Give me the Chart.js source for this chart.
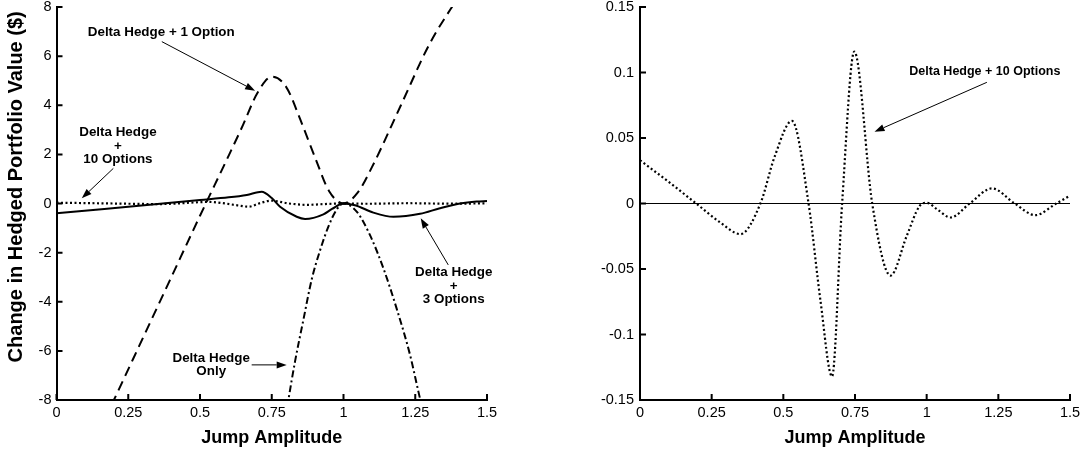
<!DOCTYPE html>
<html>
<head>
<meta charset="utf-8">
<script src="https://cdn.jsdelivr.net/npm/chart.js@4.4.1/dist/chart.umd.min.js"></script>
<style>
body { margin: 0; background: #fff; }
#left { position: absolute; left: 0; top: 0; width: 540px; height: 455px; }
#right { position: absolute; left: 540px; top: 0; width: 544px; height: 455px; }
</style>
</head>
<body>
<div id="left"><canvas id="c1"></canvas></div>
<div id="right"><canvas id="c2"></canvas></div>
<script>
// x ticks (jump amplitude) shared by both panels
const xTicks = [0, 0.25, 0.5, 0.75, 1, 1.25, 1.5];

// Delta Hedge + 1 Option (dashed)
const oneOptX = [0, 0.2, 0.3, 0.4, 0.5, 0.6, 0.65, 0.7, 0.75, 0.8, 0.85, 0.9, 0.95, 1.0, 1.05, 1.1, 1.2, 1.3, 1.4, 1.5];
const oneOptY = [-12.9, -8.0, -5.5, -3.0, -0.5, 1.95, 3.2, 4.5, 5.16, 4.75, 3.4, 1.9, 0.5, 0, 0.45, 1.5, 4.0, 6.5, 8.4, 10.2];

// Delta Hedge Only (dash-dot)
const onlyX = [0.78, 0.808, 0.831, 0.86, 0.889, 0.918, 0.947, 0.976, 1.0, 1.046, 1.092, 1.139, 1.185, 1.232, 1.261, 1.29];
const onlyY = [-10.1, -8, -6.44, -4.75, -3.1, -1.92, -0.95, -0.25, 0, -0.33, -1.28, -2.64, -4.27, -6.17, -7.66, -9.1];

// Delta Hedge + 3 Options (solid)
const threeX = [0, 0.5, 0.6, 0.663, 0.715, 0.75, 0.779, 0.837, 0.866, 0.93, 0.96, 1.0, 1.04, 1.104, 1.174, 1.267, 1.336, 1.406, 1.464, 1.5];
const threeY = [-0.4, 0.14, 0.25, 0.35, 0.48, 0.22, -0.13, -0.54, -0.63, -0.44, -0.22, 0, -0.07, -0.37, -0.54, -0.42, -0.19, 0, 0.08, 0.1];

// Delta Hedge + 10 Options (dotted), used in both panels
const tenX = [0, 0.1, 0.196, 0.28, 0.35, 0.42, 0.47, 0.53, 0.588, 0.63, 0.67, 0.705, 0.7476, 0.81, 0.874, 0.93, 0.975, 1.0, 1.04, 1.083, 1.15, 1.228, 1.307, 1.379, 1.452, 1.5];
const tenY = [0.033, 0.0165, 0, -0.0145, -0.0234, 0, 0.036, 0.063, 0, -0.075, -0.132, 0, 0.116, 0, -0.055, -0.025, -0.002, 0.0005, -0.005, -0.0107, 0, 0.0115, 0, -0.0089, 0, 0.006];

const leftYTicks = [-8, -6, -4, -2, 0, 2, 4, 6, 8];
const rightYTicks = [-0.15, -0.1, -0.05, 0, 0.05, 0.1, 0.15];

const FONT = '"Liberation Sans", Arial, Helvetica, sans-serif';
Chart.defaults.color = '#000';
Chart.defaults.font.family = FONT;

function pairs(xs, ys) {
    let out = [];
    for (let i = 0; i < xs.length; i++) {
        out.push({x: xs[i], y: ys[i]});
    }
    return out;
}

function fmt(v) {
    return parseFloat(v.toFixed(2)).toString();
}

function line(label, xs, ys, dash, width) {
    return {
        label: label,
        data: pairs(xs, ys),
        borderColor: '#000',
        borderWidth: width,
        borderDash: dash,
        borderCapStyle: 'butt',
        pointRadius: 0,
        fill: false,
        cubicInterpolationMode: 'monotone'
    };
}

// ticks pointing into the plot, like the original
const inwardTicks = {
    id: 'inwardTicks',
    afterDraw(chart) {
        const ctx = chart.ctx;
        const a = chart.chartArea;
        const sx = chart.scales.x, sy = chart.scales.y;
        ctx.save();
        ctx.strokeStyle = '#000';
        ctx.lineWidth = 2;
        ctx.beginPath();
        sx.ticks.forEach(t => {
            const p = sx.getPixelForValue(t.value);
            ctx.moveTo(p, a.bottom);
            ctx.lineTo(p, a.bottom - 6);
        });
        sy.ticks.forEach(t => {
            const p = sy.getPixelForValue(t.value);
            ctx.moveTo(a.left, p);
            ctx.lineTo(a.left + 6, p);
        });
        ctx.stroke();
        ctx.restore();
    }
};

// text labels with arrows
const notes = {
    id: 'notes',
    afterDatasetsDraw(chart, args, opts) {
        const ctx = chart.ctx;
        const sx = chart.scales.x, sy = chart.scales.y;
        ctx.save();
        ctx.fillStyle = '#000';
        ctx.strokeStyle = '#000';
        ctx.textAlign = 'center';
        ctx.textBaseline = 'middle';
        (opts.items || []).forEach(n => {
            ctx.font = 'bold ' + n.size + 'px ' + FONT;
            const tx = sx.getPixelForValue(n.at[0]);
            const ty = sy.getPixelForValue(n.at[1]);
            n.lines.forEach((t, i) => ctx.fillText(t, tx, ty + i * n.lead));

            const x0 = sx.getPixelForValue(n.from[0]), y0 = sy.getPixelForValue(n.from[1]);
            const x1 = sx.getPixelForValue(n.to[0]), y1 = sy.getPixelForValue(n.to[1]);
            const ang = Math.atan2(y1 - y0, x1 - x0);
            const len = 10, half = 3.5;
            ctx.lineWidth = 1;
            ctx.beginPath();
            ctx.moveTo(x0, y0);
            ctx.lineTo(x1 - Math.cos(ang) * len, y1 - Math.sin(ang) * len);
            ctx.stroke();
            ctx.beginPath();
            ctx.moveTo(x1, y1);
            ctx.lineTo(x1 - Math.cos(ang) * len - Math.sin(ang) * half, y1 - Math.sin(ang) * len + Math.cos(ang) * half);
            ctx.lineTo(x1 - Math.cos(ang) * len + Math.sin(ang) * half, y1 - Math.sin(ang) * len - Math.cos(ang) * half);
            ctx.closePath();
            ctx.fill();
        });
        ctx.restore();
    }
};

function xAxis() {
    return {
        type: 'linear',
        min: 0,
        max: 1.5,
        afterBuildTicks: s => { s.ticks = xTicks.map(v => ({value: v})); },
        ticks: { font: {size: 14.5}, padding: 4, maxRotation: 0, autoSkip: false, callback: fmt },
        grid: { display: false, drawTicks: false },
        border: { display: true, color: '#000', width: 2 },
        title: { display: true, text: 'Jump Amplitude', font: {size: 18, weight: 'bold'}, padding: {top: 0, bottom: 6} },
        afterFit: s => { s.height = 55; s.paddingLeft = 0; s.paddingRight = 0; }
    };
}

function yAxis(ticks, width, pad) {
    return {
        type: 'linear',
        min: ticks[0],
        max: ticks[ticks.length - 1],
        afterBuildTicks: s => { s.ticks = ticks.map(v => ({value: v})); },
        ticks: { font: {size: 14.5}, padding: pad, autoSkip: false, callback: fmt },
        border: { display: true, color: '#000', width: 2 },
        afterFit: s => { s.width = width; s.paddingTop = 0; s.paddingBottom = 0; }
    };
}

const leftY = yAxis(leftYTicks, 56.5, 5);
leftY.grid = { display: false, drawTicks: false };
// leading spaces nudge the title up a bit, as in the original
leftY.title = { display: true, text: '\u00a0\u00a0\u00a0\u00a0\u00a0\u00a0Change in Hedged Portfolio Value ($)', font: {size: 20, weight: 'bold'}, padding: {top: 4, bottom: 0} };

const leftChart = new Chart(document.getElementById('c1'), {
    type: 'line',
    data: {
        datasets: [
            line('Delta Hedge + 1 Option', oneOptX, oneOptY, [10, 6], 2),
            line('Delta Hedge Only', onlyX, onlyY, [7, 3, 2, 3], 2),
            line('Delta Hedge + 3 Options', threeX, threeY, [], 2),
            line('Delta Hedge + 10 Options', tenX, tenY, [2, 2.5], 2.2)
        ]
    },
    options: {
        responsive: true,
        maintainAspectRatio: false,
        animation: false,
        devicePixelRatio: 1,
        layout: { padding: {left: 0, top: 7, right: 53, bottom: 0} },
        scales: { x: xAxis(), y: leftY },
        plugins: {
            legend: { display: false },
            tooltip: { enabled: false },
            notes: {
                items: [
                    { lines: ['Delta Hedge + 1 Option'], at: [0.365, 6.97], lead: 0, size: 13.4, from: [0.367, 6.59], to: [0.692, 4.59] },
                    { lines: ['Delta Hedge', '+', '10 Options'], at: [0.214, 2.88], lead: 13.3, size: 13.4, from: [0.198, 1.43], to: [0.088, 0.21] },
                    { lines: ['Delta Hedge', '+', '3 Options'], at: [1.384, -2.82], lead: 13.2, size: 13.4, from: [1.365, -2.5], to: [1.269, -0.6] },
                    { lines: ['Delta Hedge', 'Only'], at: [0.539, -6.30], lead: 13.4, size: 13.4, from: [0.68, -6.57], to: [0.802, -6.57] }
                ]
            }
        }
    },
    plugins: [inwardTicks, notes]
});

const rightY = yAxis(rightYTicks, 100, 6);
rightY.grid = {
    display: true,
    drawTicks: false,
    lineWidth: 1,
    color: c => Math.abs(c.tick.value) < 1e-9 ? '#000' : 'rgba(0,0,0,0)'
};

const rightChart = new Chart(document.getElementById('c2'), {
    type: 'line',
    data: {
        datasets: [
            line('Delta Hedge + 10 Options', tenX, tenY, [2, 2.5], 2.2)
        ]
    },
    options: {
        responsive: true,
        maintainAspectRatio: false,
        animation: false,
        devicePixelRatio: 1,
        layout: { padding: {left: 0, top: 7, right: 14, bottom: 0} },
        scales: { x: xAxis(), y: rightY },
        plugins: {
            legend: { display: false },
            tooltip: { enabled: false },
            notes: {
                items: [
                    { lines: ['Delta Hedge + 10 Options'], at: [1.203, 0.1006], lead: 0, size: 12.5, from: [1.21, 0.0925], to: [0.818, 0.0548] }
                ]
            }
        }
    },
    plugins: [inwardTicks, notes]
});
</script>
</body>
</html>
